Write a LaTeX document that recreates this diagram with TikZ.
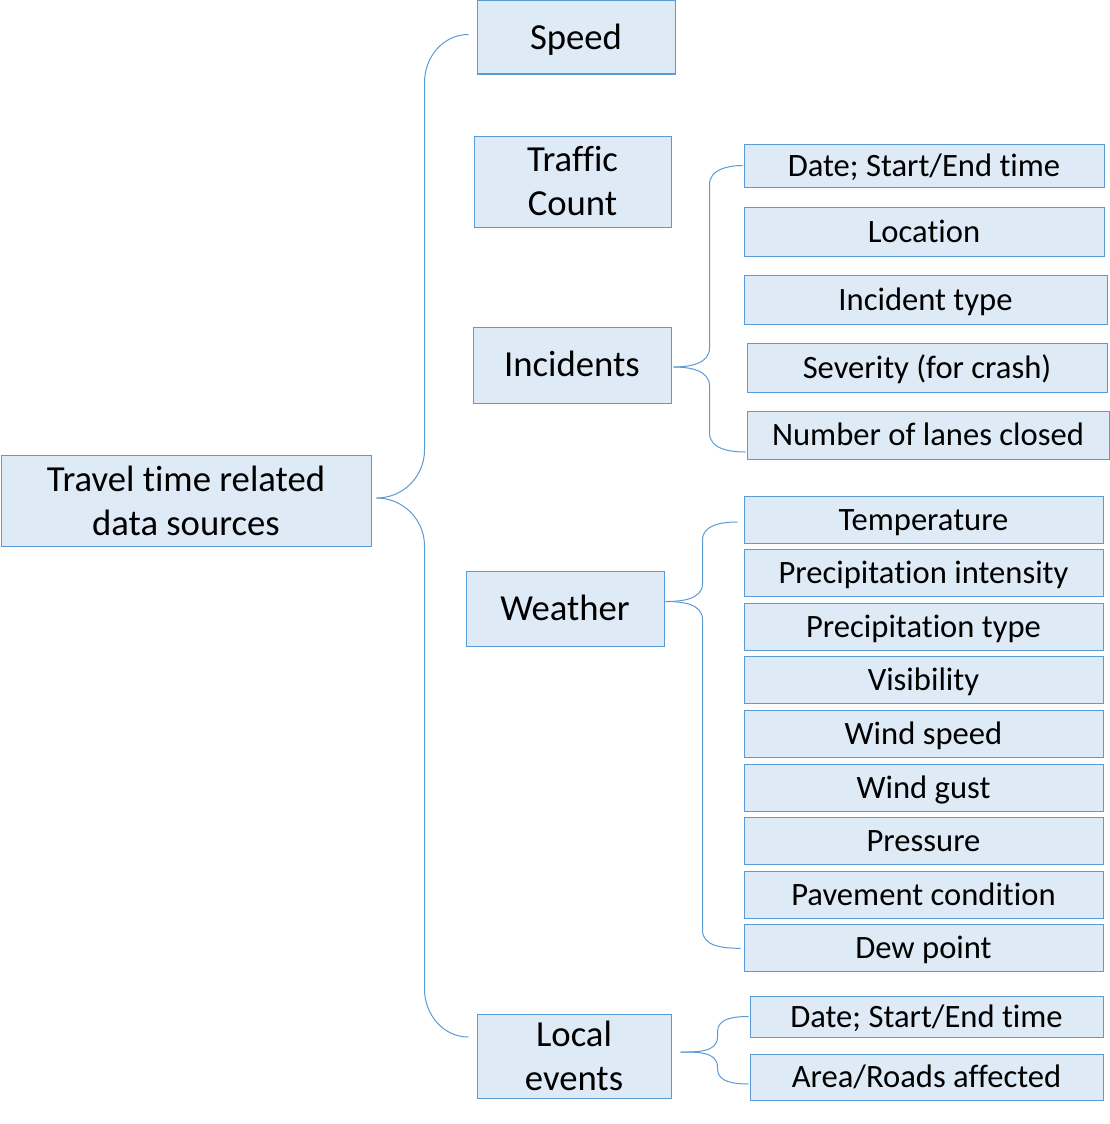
\documentclass[tikz,border=0pt]{standalone}
\usepackage{fontspec}
\setmainfont{Carlito}[Ligatures=NoCommon]
\usepackage{tikz}

\definecolor{boxfill}{HTML}{DEEBF7}
\definecolor{boxline}{HTML}{5B9BD5}

\newcommand{\bracelink}[5]{%
	\draw[link] (#1) to[out=0,in=-90] ([yshift=#5]#4 |- #1) -- ([yshift=-#5]#4 |- #2) to[out=90,in=180] (#2);
	\draw[link] (#1) to[out=0,in=90] ([yshift=-#5]#4 |- #1) -- ([yshift=#5]#4 |- #3) to[out=-90,in=180] (#3);
}

\begin{document}
\begin{tikzpicture}[x=1pt, y=-1pt,
		box/.style={draw=boxline, fill=boxfill, line width=1pt, inner sep=0pt, align=center},
		topic/.style={box, font=\fontsize{36.7}{44}\selectfont},
		oneline/.style={text height=23.6pt, text depth=0pt},
		leaf/.style={box, font=\fontsize{32.6}{38}\selectfont, text height=21pt, text depth=0pt, minimum width=359pt, minimum height=47pt},
		link/.style={draw=boxline, line width=1pt}]
		\useasboundingbox (0,0) rectangle (1110,1124);

		\node[topic, minimum width=370pt, minimum height=91pt] (root) at (186,500.5) {Travel time related\\data sources};

		\node[topic, oneline, minimum width=198pt, minimum height=73pt] (speed) at (576,37.5) {Speed};
		\node[topic, minimum width=197pt, minimum height=91pt] (traffic) at (572.5,181.5) {Traffic\\Count};
		\node[topic, oneline, minimum width=198pt, minimum height=76pt] (incid) at (572,365) {Incidents};
		\node[topic, oneline, minimum width=198pt, minimum height=75pt] (weather) at (565,608.5) {Weather};
		\node[topic, minimum width=194pt, minimum height=84pt] (local) at (574,1056) {Local\\events};

		\node[leaf, minimum width=360pt, minimum height=43pt] (i1) at (924,165.5) {Date; Start/End time};
		\node[leaf, minimum width=360pt, minimum height=49pt] (i2) at (924,231.5) {Location};
		\node[leaf, minimum width=363pt, minimum height=49pt] (i3) at (925.5,299.5) {Incident type};
		\node[leaf, minimum width=360pt, minimum height=49pt] (i4) at (927,367.5) {Severity (for crash)};
		\node[leaf, minimum width=362pt, minimum height=48pt] (i5) at (928,435) {Number of lanes closed};

		\foreach \txt [count=\i] in {Temperature, Precipitation intensity, Precipitation type, Visibility, Wind speed, Wind gust, Pressure, Pavement condition, Dew point} {
				\node[leaf] (w\i) at (923.5, {519.5+53.6*(\i-1)}) {\txt};
			}

		\node[leaf, minimum width=353pt, minimum height=41pt] (e1) at (926.5,1016.5) {Date; Start/End time};
		\node[leaf, minimum width=353pt, minimum height=46pt] (e2) at (926.5,1077) {Area/Roads affected};

		\coordinate (rootTip) at ([xshift=5pt,yshift=2.5pt]root.east);
		\coordinate (rootSpine) at ([xshift=48pt]rootTip);
		\coordinate (speedEnd) at ([xshift=-8pt,yshift=3pt]speed.west);
		\coordinate (localEnd) at ([xshift=-8pt,yshift=19pt]local.west);
		\bracelink{rootTip}{speedEnd}{localEnd}{rootSpine}{48pt}

		\coordinate (incTip) at ([xshift=2pt,yshift=-2pt]incid.east);
		\coordinate (incSpine) at ([xshift=36pt]incTip);
		\coordinate (incTop) at ([xshift=-1pt]i1.west);
		\coordinate (incBot) at ([xshift=-1pt,yshift=-17pt]i5.west);
		\bracelink{incTip}{incTop}{incBot}{incSpine}{19pt}

		\coordinate (wxTip) at ([xshift=1pt,yshift=7pt]weather.east);
		\coordinate (wxSpine) at ([xshift=37pt]wxTip);
		\coordinate (wxTop) at ([xshift=-6pt,yshift=-2.5pt]w1.west);
		\coordinate (wxBot) at ([xshift=-3pt]w9.west);
		\bracelink{wxTip}{wxTop}{wxBot}{wxSpine}{18pt}

		\coordinate (evTip) at ([xshift=9pt,yshift=4pt]local.east);
		\coordinate (evSpine) at ([xshift=37pt]evTip);
		\coordinate (evTop) at ([xshift=-1pt]e1.west);
		\coordinate (evBot) at ([xshift=-1pt,yshift=-7pt]e2.west);
		\bracelink{evTip}{evTop}{evBot}{evSpine}{15pt}
	\end{tikzpicture}
\end{document}
